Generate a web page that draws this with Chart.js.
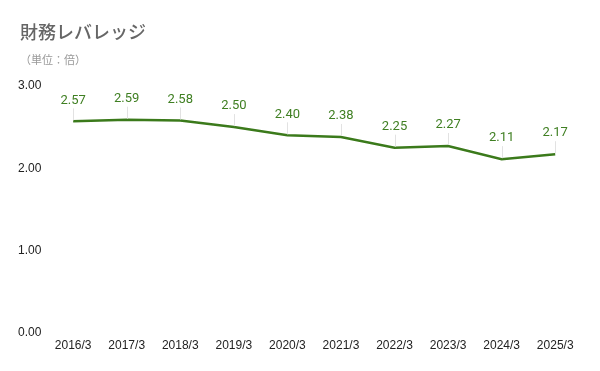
<!DOCTYPE html>
<html>
<head>
<meta charset="utf-8">
<script src="https://cdn.jsdelivr.net/npm/chart.js@4"></script>
<style>
  body { margin: 0; background: #fff; }
  #wrap { position: relative; width: 600px; height: 371px; }
  #title { position: absolute; left: 20px; top: 18px; font: 500 18px "Noto Sans CJK JP", sans-serif; color: #666; }
  #sub { position: absolute; left: 20px; top: 51px; font: 11px "Noto Sans CJK JP", sans-serif; color: #999; }
</style>
</head>
<body>
<div id="wrap">
  <canvas id="myChart" width="600" height="371"></canvas>
  <div id="title">財務レバレッジ</div>
  <div id="sub">（単位：倍）</div>
</div>
<script>
const ctx = document.getElementById('myChart');

// data
const years = ['2016/3', '2017/3', '2018/3', '2019/3', '2020/3', '2021/3', '2022/3', '2023/3', '2024/3', '2025/3'];
const leverage = [2.57, 2.59, 2.58, 2.50, 2.40, 2.38, 2.25, 2.27, 2.11, 2.17];
const yTicks = [0, 1, 2, 3];

const lineGreen = '#3b7a1b';
const labelGreen = '#3f7f22';

// value labels with a thin leader line
const valueLabels = {
    id: 'valueLabels',
    afterDatasetsDraw(chart) {
        const c = chart.ctx;
        const meta = chart.getDatasetMeta(0);
        c.save();
        meta.data.forEach(function (pt, i) {
            c.strokeStyle = '#e2e2e2';
            c.lineWidth = 1;
            c.beginPath();
            c.moveTo(Math.round(pt.x) + 0.5, pt.y - 1);
            c.lineTo(Math.round(pt.x) + 0.5, pt.y - 13);
            c.stroke();
            c.fillStyle = labelGreen;
            c.font = '13px Roboto';
            c.textAlign = 'center';
            c.textBaseline = 'middle';
            c.fillText(leverage[i].toFixed(2), pt.x, pt.y - 21);
        });
        c.restore();
    }
};

new Chart(ctx, {
    type: 'line',
    data: {
        labels: years,
        datasets: [
            {
                label: '財務レバレッジ',
                data: leverage,
                borderColor: lineGreen,
                borderWidth: 2.5,
                pointRadius: 0,
                tension: 0,
                fill: false
            }
        ]
    },
    options: {
        responsive: false,
        animation: false,
        layout: {
            padding: { left: 13, right: 18, top: 86, bottom: 12 }
        },
        plugins: {
            legend: { display: false },
            tooltip: { enabled: false }
        },
        scales: {
            x: {
                offset: true,
                grid: { display: false, drawTicks: false },
                border: { display: false },
                ticks: {
                    color: '#222',
                    font: { family: 'Liberation Sans', size: 12 },
                    padding: 6,
                    maxRotation: 0
                }
            },
            y: {
                min: 0,
                max: 3,
                afterBuildTicks: function (axis) {
                    axis.ticks = yTicks.map(v => ({ value: v }));
                },
                grid: { display: false, drawTicks: false },
                border: { display: false },
                ticks: {
                    color: '#222',
                    font: { family: 'Liberation Sans', size: 12 },
                    padding: 5,
                    callback: v => v.toFixed(2)
                }
            }
        }
    },
    plugins: [valueLabels]
});
</script>
</body>
</html>
